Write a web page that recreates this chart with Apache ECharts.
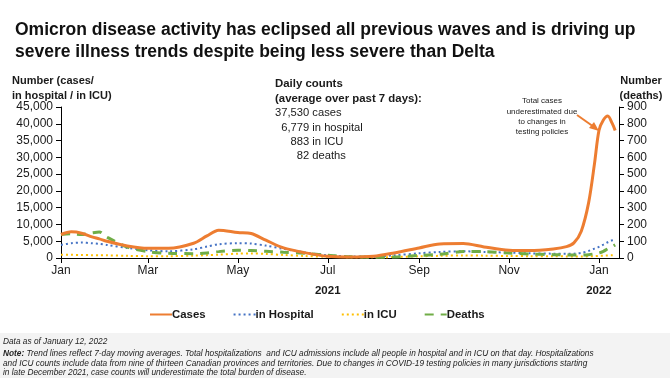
<!DOCTYPE html>
<html>
<head>
<meta charset="utf-8">
<script src="https://cdn.jsdelivr.net/npm/echarts@6/dist/echarts.min.js"></script>
<style>
html,body{margin:0;padding:0;background:#fff;}
#c{width:670px;height:378px;}
</style>
</head>
<body>
<div id="c"></div>
<script>
// ---- data ----
const dates = ['2021-01-01','2021-01-08','2021-01-15','2021-01-22','2021-01-27','2021-02-01','2021-02-15','2021-03-01','2021-03-15','2021-04-01','2021-04-10','2021-04-18','2021-05-01','2021-05-10','2021-05-20','2021-06-01','2021-06-15','2021-07-01','2021-07-15','2021-08-01','2021-08-15','2021-09-01','2021-09-15','2021-10-01','2021-10-15','2021-11-01','2021-11-15','2021-12-01','2021-12-10','2021-12-15','2021-12-20','2021-12-25','2021-12-29','2022-01-01','2022-01-04','2022-01-07','2022-01-10','2022-01-12'];
const cases    = [7000,7800,7400,6300,5700,5000,3600,2900,2900,4400,6600,8300,7600,7300,5300,3000,1600,500,300,500,1500,3000,4200,4300,3300,2300,2200,2700,3400,4500,8000,16500,28200,38000,41100,42300,40100,38000];
const hospital = [3900,4400,4600,4400,4200,3900,3000,2300,2000,2600,3400,4100,4400,4300,3700,2700,1700,800,500,400,800,1400,1800,2000,1800,1600,1400,1300,1300,1300,1500,2100,2800,3300,4000,4700,5300,5700];
const icu      = [1000,950,900,850,830,800,650,550,550,700,850,1000,1300,1350,1200,900,600,350,250,200,300,500,650,750,700,600,550,500,480,450,450,500,550,650,700,750,800,850];
const deaths   = [140,145,140,150,155,125,65,38,28,26,30,38,46,44,40,34,28,16,8,4,6,15,22,38,38,30,24,20,18,18,18,20,25,30,40,55,68,78];
const seriesNames = ['Cases','in Hospital','in ICU','Deaths'];
const monthTicks  = ['2021-01-01','2021-03-01','2021-05-01','2021-07-01','2021-09-01','2021-11-01','2022-01-01'];
const monthLabels = ['Jan','Mar','May','Jul','Sep','Nov','Jan'];
const yearLabels  = ['','','','2021','','','2022'];
const leftMax = 45000, leftStep = 5000;
const rightMax = 900, rightStep = 100;
const axisEnd = '2022-01-14';

function toDay(s){
  const p = s.split('-').map(Number);
  const t = Date.UTC(p[0],p[1]-1,p[2]);
  return Math.round((t - Date.UTC(2021,0,1))/86400000);
}
const xs = dates.map(toDay);
const pair = arr => arr.map((v,i)=>[xs[i],v]);
const tickDays = monthTicks.map(toDay);

const chart = echarts.init(document.getElementById('c'), null, {renderer:'canvas'});
const FONT = 'Liberation Sans, Arial, sans-serif';
const NARROW = '"Liberation Sans Narrow", "Arial Narrow", ' + FONT;
const txtColor = '#1a1a1a';

chart.setOption({
  animation:false,
  backgroundColor:'#ffffff',
  textStyle:{fontFamily:FONT},
  grid:{left:61,right:51,top:107,bottom:120},
  xAxis:{
    type:'value', min:0, max:toDay(axisEnd)+0.6,
    splitLine:{show:false},
    axisLine:{show:true,lineStyle:{color:'#000',width:1}},
    axisTick:{show:true,length:5,lineStyle:{color:'#000'},customValues:tickDays},
    axisLabel:{
      customValues:tickDays, margin:7,
      color:txtColor, fontSize:12, fontFamily:FONT, lineHeight:10.5,
      formatter:function(v){
        const i = tickDays.indexOf(v);
        if(i<0) return '';
        return yearLabels[i] ? monthLabels[i]+'\n\n{y|'+yearLabels[i]+'}' : monthLabels[i];
      },
      rich:{y:{fontWeight:'bold',fontSize:11.5,color:txtColor,fontFamily:FONT,lineHeight:10.5}}
    }
  },
  yAxis:[{
    type:'value', min:0, max:leftMax, interval:leftStep, position:'left',
    splitLine:{show:false},
    axisLine:{show:true,lineStyle:{color:'#000'}},
    axisTick:{show:true,length:5,lineStyle:{color:'#000'}},
    axisLabel:{color:txtColor,fontSize:12,fontFamily:FONT,margin:8,
      formatter:v=>v.toLocaleString('en-US')}
  },{
    type:'value', min:0, max:rightMax, interval:rightStep, position:'right',
    splitLine:{show:false},
    axisLine:{show:true,lineStyle:{color:'#000'}},
    axisTick:{show:true,length:5,lineStyle:{color:'#000'}},
    axisLabel:{color:txtColor,fontSize:12,fontFamily:FONT,margin:8}
  }],
  legend:{
    top:304, left:144, itemWidth:22, itemHeight:8, itemGap:27,
    itemStyle:{opacity:0},
    textStyle:{fontFamily:FONT,fontSize:11.4,fontWeight:'bold',color:txtColor,padding:[0,0,0,-5]},
    data:seriesNames
  },
  series:[
    {name:seriesNames[0],type:'line',yAxisIndex:0,data:pair(cases),symbol:'none',smooth:0.3,z:5,
      itemStyle:{color:'#ED7D31'},lineStyle:{color:'#ED7D31',width:3}},
    {name:seriesNames[1],type:'line',yAxisIndex:0,data:pair(hospital),symbol:'none',smooth:0.3,z:4,
      itemStyle:{color:'#4472C4'},lineStyle:{color:'#4472C4',width:2,type:[2,3]}},
    {name:seriesNames[2],type:'line',yAxisIndex:0,data:pair(icu),symbol:'none',smooth:0.3,z:3,
      itemStyle:{color:'#FFC000'},lineStyle:{color:'#FFC000',width:2,type:[2,3]}},
    {name:seriesNames[3],type:'line',yAxisIndex:1,data:pair(deaths),symbol:'none',smooth:0.3,z:4,
      itemStyle:{color:'#70AD47'},lineStyle:{color:'#70AD47',width:3,type:[9,7]}}
  ],
  graphic:[
    {type:'rect',shape:{x:0,y:333,width:670,height:45},style:{fill:'#f3f3f3',stroke:null},z:-10,silent:true},
    {type:'text',x:15,y:19,style:{text:'Omicron disease activity has eclipsed all previous waves and is driving up\nsevere illness trends despite being less severe than Delta',
      font:'bold 17.5px '+FONT,fill:'#111',lineHeight:22}},
    {type:'text',x:12,y:74,style:{text:'Number (cases/\nin hospital / in ICU)',font:'bold 11px '+FONT,fill:txtColor,lineHeight:14.5}},
    {type:'text',x:641,y:74,style:{text:'Number\n(deaths)',font:'bold 11px '+FONT,fill:txtColor,lineHeight:14.5,align:'center'}},
    {type:'text',x:275,y:77,style:{text:'Daily counts\n(average over past 7 days):',font:'bold 11.4px '+FONT,fill:txtColor,lineHeight:14.3}},
    {type:'text',x:275,y:106,style:{text:'37,530 cases\n  6,779 in hospital\n     883 in ICU\n       82 deaths',font:'11.2px '+FONT,fill:txtColor,lineHeight:14.3}},
    {type:'text',x:542,y:96,style:{text:'Total cases\nunderestimated due\nto changes in\ntesting policies',font:'8px '+FONT,fill:txtColor,lineHeight:10.3,align:'center'}},
    {type:'line',shape:{x1:577,y1:115,x2:594,y2:127},style:{stroke:'#ED7D31',lineWidth:2}},
    {type:'polygon',shape:{points:[[599,131],[589,128],[594,122]]},style:{fill:'#ED7D31'}},
    {type:'text',x:3,y:338,style:{text:'Data as of January 12, 2022',font:'italic 8.3px '+NARROW,fill:'#222'}},
    {type:'text',x:3,y:349,style:{
      text:'{b|Note:} Trend lines reflect 7-day moving averages. Total hospitalizations  and ICU admissions include all people in hospital and in ICU on that day. Hospitalizations\nand ICU counts include data from nine of thirteen Canadian provinces and territories. Due to changes in COVID-19 testing policies in many jurisdictions starting\nin late December 2021, case counts will underestimate the total burden of disease.',
      font:'italic 8.3px '+NARROW,fill:'#222',lineHeight:9.5,
      rich:{b:{font:'italic bold 8.3px '+NARROW,fill:'#222'}}}}
  ]
});
</script>
</body>
</html>
